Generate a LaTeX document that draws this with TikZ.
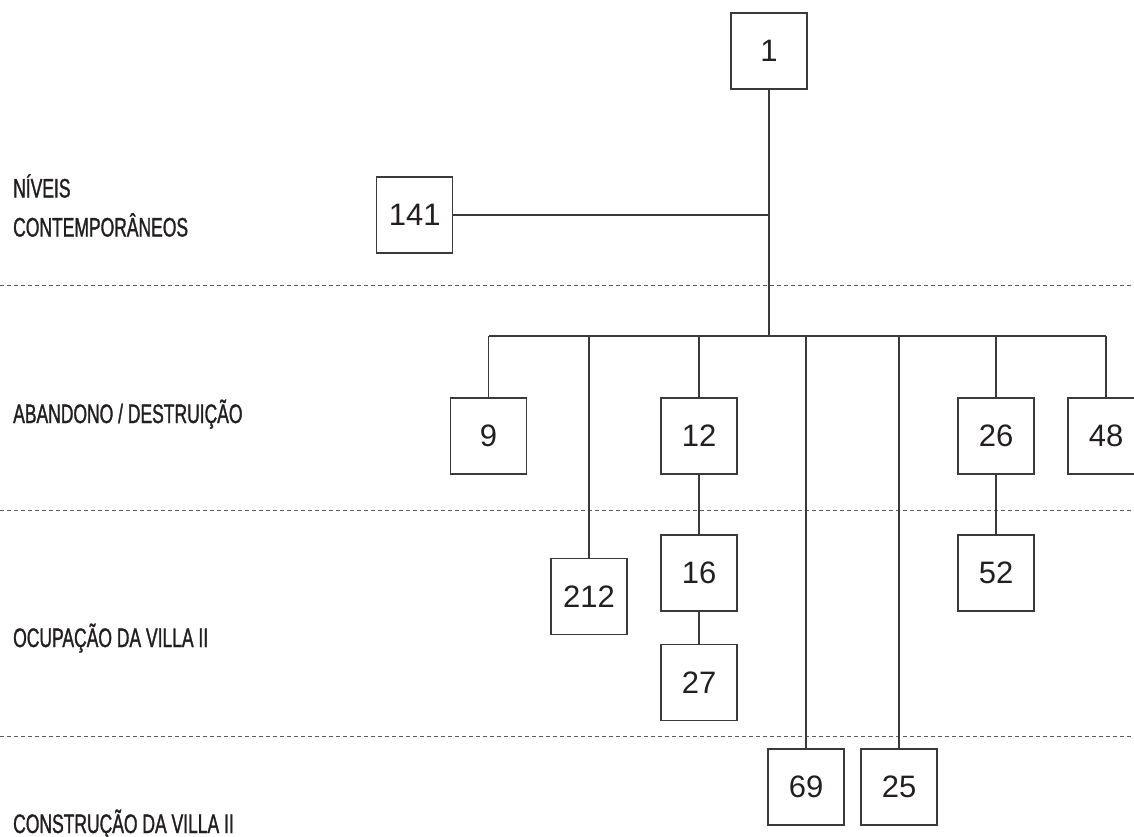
\documentclass[tikz,border=0pt]{standalone}
\usepackage{fontspec}
\setmainfont{Liberation Sans}
\newfontfamily\condfont[FakeStretch=0.655,FakeBold=1.2]{Liberation Sans}
\definecolor{linegray}{HTML}{3A3A3A}
\definecolor{dashgray}{HTML}{5A5A5A}
\definecolor{txt}{HTML}{231F20}
\begin{document}
\begin{tikzpicture}[x=1pt,y=-1pt,
  box/.style={draw=linegray, line width=1.4pt, minimum width=76pt, minimum height=76pt,
    inner sep=0pt, font=\fontsize{31}{31}\selectfont, text=txt},
  conn/.style={draw=linegray, line width=1.4pt},
  sepline/.style={draw=dashgray, line width=1pt, dash pattern=on 4pt off 3pt},
  lab/.style={anchor=base west, inner sep=0pt, font=\condfont\fontsize{26.7}{26.7}\selectfont, text=txt}]
\useasboundingbox (0,0) rectangle (1134,836);

% separators
\coordinate (s1l) at (0,285);   \coordinate (s1r) at (1134,285);
\coordinate (s2l) at (0,510);   \coordinate (s2r) at (1134,510);
\coordinate (s3l) at (0,736);   \coordinate (s3r) at (1134,736);
\draw[sepline] (s1l) -- (s1r);
\draw[sepline] (s2l) -- (s2r);
\draw[sepline] (s3l) -- (s3r);

% labels
\node[lab] (l1a) at (13,197.5) {NÍVEIS};
\node[lab] (l1b) at (13,236.5) {CONTEMPORÂNEOS};
\node[lab] (l2) at (13,423) {ABANDONO / DESTRUIÇÃO};
\node[lab] (l3) at (13,647) {OCUPAÇÃO DA VILLA II};
\node[lab] (l4) at (13,833) {CONSTRUÇÃO DA VILLA II};

% boxes
\node[box,fill=white] (n1) at (769,51) {1};
\node[box,fill=white] (n141) at (414.7,215) {141};
\node[box,fill=white] (n9) at (488.5,436) {9};
\node[box,fill=white] (n12) at (699,436) {12};
\node[box,fill=white] (n26) at (996,436) {26};
\node[box,fill=white] (n48) at (1106,436) {48};
\node[box,fill=white] (n212) at (589,596.5) {212};
\node[box,fill=white] (n16) at (699,573) {16};
\node[box,fill=white] (n27) at (699,682.5) {27};
\node[box,fill=white] (n52) at (996,573) {52};
\node[box,fill=white] (n69) at (806,787) {69};
\node[box,fill=white] (n25) at (899,787) {25};

% bus
\coordinate (trunk) at (769,336);
\coordinate (busL) at (489,336);
\coordinate (busR) at (1106,336);
\coordinate (d212) at (589,336);
\coordinate (d69) at (806,336);
\coordinate (d25) at (899,336);

\draw[conn] (n1.south) -- (trunk);
\draw[conn] (n141.east) -- (n141.east -| n1.south);
\draw[conn] (busL) -- (busR);
\draw[conn] (n9.north) -- (n9.north |- trunk);
\draw[conn] (n12.north) -- (n12.north |- trunk);
\draw[conn] (n26.north) -- (n26.north |- trunk);
\draw[conn] (n48.north) -- (n48.north |- trunk);
\draw[conn] (n212.north) -- (d212);
\draw[conn] (n69.north) -- (d69);
\draw[conn] (n25.north) -- (d25);
\draw[conn] (n12.south) -- (n16.north);
\draw[conn] (n16.south) -- (n27.north);
\draw[conn] (n26.south) -- (n52.north);
\end{tikzpicture}
\end{document}
